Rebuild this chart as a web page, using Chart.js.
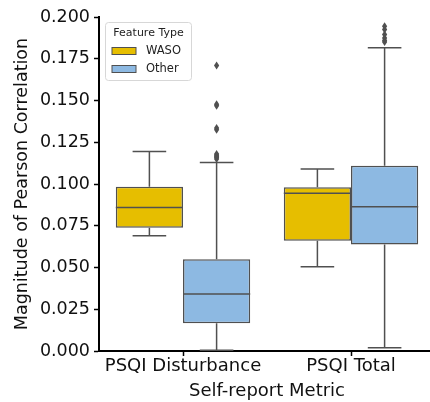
<!DOCTYPE html>
<html>
<head>
<meta charset="utf-8">
<script src="https://cdn.jsdelivr.net/npm/chart.js@4.4.0/dist/chart.umd.min.js"></script>
<style>
  html, body { margin: 0; padding: 0; background: #fff; overflow: hidden; }
  #wrap { width: 435px; height: 402px; }
</style>
</head>
<body>
<div id="wrap"><canvas id="myChart" width="435" height="402"></canvas></div>
<script>
// categories
const metrics = ['PSQI Disturbance', 'PSQI Total'];

// WASO feature boxes
const wasoQ1 = [0.0738, 0.0660];
const wasoMed = [0.0860, 0.0944];
const wasoQ3 = [0.0984, 0.0980];
const wasoLow = [0.0690, 0.0505];
const wasoHigh = [0.1195, 0.1090];
const wasoOut = [[], []];

// Other feature boxes
const otherQ1 = [0.0166, 0.0637];
const otherMed = [0.0341, 0.0864];
const otherQ3 = [0.0550, 0.1110];
const otherLow = [0.0005, 0.0020];
const otherHigh = [0.1128, 0.1816];
const otherOut = [
  [0.1710, 0.1478, 0.1468, 0.1335, 0.1325, 0.1180, 0.1172, 0.1165, 0.1158, 0.1150],
  [0.1945, 0.1925, 0.1895, 0.1875, 0.1860, 0.1850]
];

const yTicks = [0, 0.025, 0.05, 0.075, 0.1, 0.125, 0.15, 0.175, 0.2];

const GOLD = 'rgb(230, 190, 0)';
const BLUE = 'rgb(141, 185, 226)';
const EDGE = 'rgb(80, 80, 80)';
const FONT = 'DejaVu Sans';

const stats = [
  {low: wasoLow, high: wasoHigh, med: wasoMed, out: wasoOut},
  {low: otherLow, high: otherHigh, med: otherMed, out: otherOut}
];

// whiskers, medians and outliers on top of the floating bars
const boxExtras = {
  id: 'boxExtras',
  afterDatasetsDraw(chart) {
    const ctx = chart.ctx;
    const y = chart.scales.y;
    ctx.save();
    ctx.strokeStyle = EDGE;
    ctx.fillStyle = EDGE;
    ctx.lineWidth = 1.5;
    stats.forEach((s, i) => {
      const ds = chart.data.datasets[i];
      chart.getDatasetMeta(i).data.forEach((bar, j) => {
        const x = bar.x, w = bar.width;
        const q1 = y.getPixelForValue(ds.data[j][0]);
        const q3 = y.getPixelForValue(ds.data[j][1]);
        const lo = y.getPixelForValue(s.low[j]);
        const hi = y.getPixelForValue(s.high[j]);
        const md = y.getPixelForValue(s.med[j]);
        ctx.beginPath();
        ctx.moveTo(x, q3); ctx.lineTo(x, hi);
        ctx.moveTo(x - w / 4, hi); ctx.lineTo(x + w / 4, hi);
        ctx.moveTo(x, q1); ctx.lineTo(x, lo);
        ctx.moveTo(x - w / 4, lo); ctx.lineTo(x + w / 4, lo);
        ctx.moveTo(x - w / 2, md); ctx.lineTo(x + w / 2, md);
        ctx.stroke();
        s.out[j].forEach(v => {
          const py = y.getPixelForValue(v);
          ctx.beginPath();
          ctx.moveTo(x, py - 4);
          ctx.lineTo(x + 2.6, py);
          ctx.lineTo(x, py + 4);
          ctx.lineTo(x - 2.6, py);
          ctx.closePath();
          ctx.fill();
        });
      });
    });
    ctx.restore();
  }
};

// legend box inside the plot, upper left
const boxLegend = {
  id: 'boxLegend',
  afterDraw(chart) {
    const ctx = chart.ctx;
    const left = chart.chartArea.left + 6;
    const top = chart.chartArea.top + 5;
    ctx.save();
    ctx.fillStyle = 'rgba(255,255,255,0.8)';
    ctx.strokeStyle = 'rgb(215, 215, 215)';
    ctx.lineWidth = 1;
    ctx.beginPath();
    ctx.roundRect(left + 0.5, top + 0.5, 86, 58, 3);
    ctx.fill();
    ctx.stroke();
    ctx.font = '11px ' + FONT;
    ctx.fillStyle = '#222';
    ctx.textBaseline = 'middle';
    ctx.textAlign = 'center';
    ctx.fillText('Feature Type', left + 43.5, top + 11);
    ctx.textAlign = 'left';
    ctx.font = '11.5px ' + FONT;
    chart.data.datasets.forEach((ds, i) => {
      const cy = top + 29 + i * 18;
      ctx.fillStyle = ds.backgroundColor;
      ctx.fillRect(left + 7, cy - 3.5, 24, 7);
      ctx.strokeStyle = EDGE;
      ctx.lineWidth = 1;
      ctx.strokeRect(left + 7, cy - 3.5, 24, 7);
      ctx.fillStyle = '#222';
      ctx.fillText(ds.label, left + 41, cy + 0.5);
    });
    ctx.restore();
  }
};

const data = {
  labels: metrics,
  datasets: [
    {
      label: 'WASO',
      data: wasoQ1.map((v, i) => [v, wasoQ3[i]]),
      backgroundColor: GOLD,
      borderColor: EDGE,
      borderWidth: 1.5,
      borderSkipped: false
    },
    {
      label: 'Other',
      data: otherQ1.map((v, i) => [v, otherQ3[i]]),
      backgroundColor: BLUE,
      borderColor: EDGE,
      borderWidth: 1.5,
      borderSkipped: false
    }
  ]
};

const config = {
  type: 'bar',
  data: data,
  options: {
    responsive: false,
    animation: false,
    barPercentage: 1,
    categoryPercentage: 0.8,
    layout: {padding: {top: 17, right: 0, bottom: 0, left: 0}},
    plugins: {
      tooltip: {enabled: false},
      legend: {display: false}
    },
    scales: {
      x: {
        grid: {display: true, drawOnChartArea: false, drawTicks: true, offset: false,
               tickLength: 5, tickColor: '#000', tickWidth: 1.5},
        border: {display: true, color: '#000', width: 2},
        ticks: {color: '#111', font: {family: FONT, size: 18}, padding: 0},
        title: {display: true, text: 'Self-report Metric', color: '#111',
                font: {family: FONT, size: 18}, padding: {top: -3, bottom: 0}},
        afterFit: s => { s.height = 51; }
      },
      y: {
        min: 0,
        max: 0.2,
        afterBuildTicks: s => { s.ticks = yTicks.map(v => ({value: v})); },
        grid: {display: true, drawOnChartArea: false, drawTicks: true,
               tickLength: 5, tickColor: '#000', tickWidth: 1.5},
        border: {display: true, color: '#000', width: 2},
        ticks: {color: '#111', font: {family: FONT, size: 17.5}, padding: 4,
                callback: v => Number(v).toFixed(3)},
        title: {display: true, text: 'Magnitude of Pearson Correlation', color: '#111',
                font: {family: FONT, size: 17.5}, padding: {top: 12, bottom: 0}},
        afterFit: s => { s.width = 99; }
      }
    }
  },
  plugins: [boxExtras, boxLegend]
};

const ctx = document.getElementById('myChart').getContext('2d');
const chart = new Chart(ctx, config);
</script>
</body>
</html>
